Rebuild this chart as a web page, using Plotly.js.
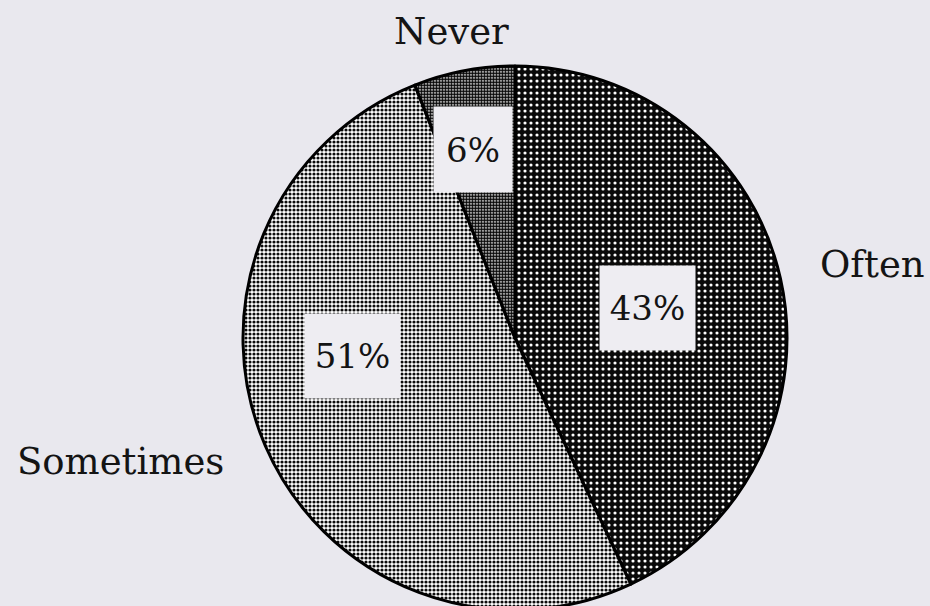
<!DOCTYPE html>
<html><head><meta charset="utf-8">
<script src="https://cdn.plot.ly/plotly-3.0.1.min.js"></script>
<style>html,body{margin:0;padding:0;background:#e9e8ee;overflow:hidden;}#chart{width:930px;height:610px;}</style>
</head><body><div id="chart"></div>
<script>
// ---- data ----
const categories = ['Often', 'Sometimes', 'Never'];
const percentValues = [43, 51, 6];
const percentLabels = ['43%', '51%', '6%'];

// ---- styles (label placement, as fractions of the pie radius) ----
const labelRadius = [1.34, 1.52, 1.15];
const labelAngleShift = [1, 6, -1];
const boxRadius = [0.5, 0.6, 0.71];
const boxAngleShift = [0, 17, -1.7];
const boxWidth = [85, 85, 68];
const boxHeight = [74, 74, 75];

const bgColors = ['#0a0a0a', '#ffffff', '#ffffff'];
const fgColors = ['#ffffff', '#0a0a0a', '#0a0a0a'];
const patSizes = [6, 4, 3];
const patSolidity = [0.22, 0.5, 0.75];

const W = 930, H = 610, R = 272, CX = 515;
const BG = '#e9e8ee';
const FONT = 'DejaVu Serif, Liberation Serif, serif';

const trace = {
  type: 'pie',
  labels: categories,
  values: percentValues,
  sort: false,
  direction: 'clockwise',
  rotation: 0,
  textinfo: 'none',
  hoverinfo: 'label+percent',
  marker: {
    colors: bgColors,
    line: {color: '#000000', width: 3},
    pattern: {
      shape: ['.', '.', '.'],
      bgcolor: bgColors,
      fgcolor: fgColors,
      size: patSizes,
      solidity: patSolidity,
      fillmode: 'replace'
    }
  },
  domain: {x: [(CX - R) / W, (CX + R) / W], y: [0, (2 * R) / H]}
};

const layout = {
  width: W, height: H,
  margin: {l: 0, r: 0, t: 0, b: 0},
  paper_bgcolor: BG,
  plot_bgcolor: BG,
  showlegend: false
};

Plotly.newPlot('chart', [trace], layout, {displayModeBar: false, staticPlot: true}).then(function (gd) {
  const cd = gd.calcdata[0];
  const cd0 = cd[0];
  const fl = gd._fullLayout;
  const sz = fl._size;
  const cx = (cd0.cx !== undefined) ? cd0.cx : sz.l + sz.w * (trace.domain.x[0] + trace.domain.x[1]) / 2;
  const cy = (cd0.cy !== undefined) ? cd0.cy : sz.t + sz.h * (1 - (trace.domain.y[0] + trace.domain.y[1]) / 2);
  const r = cd0.r || R;
  const total = percentValues.reduce((a, b) => a + b, 0);
  let cum = 0;
  const anns = [];
  for (let i = 0; i < cd.length; i++) {
    const v = percentValues[i];
    const mid = (cd[i].midangle !== undefined) ? cd[i].midangle : 2 * Math.PI * (cum + v / 2) / total;
    cum += v;
    function place(frac, shiftDeg) {
      const a = mid + shiftDeg * Math.PI / 180;
      const px = cx + frac * r * Math.sin(a);
      const py = cy - frac * r * Math.cos(a);
      return {x: (px - sz.l) / sz.w, y: 1 - (py - sz.t) / sz.h};
    }
    const lp = place(labelRadius[i], labelAngleShift[i]);
    anns.push({
      xref: 'paper', yref: 'paper', x: lp.x, y: lp.y,
      xanchor: 'center', yanchor: 'middle', showarrow: false,
      text: categories[i],
      font: {family: FONT, size: 37, color: '#141414'}
    });
    const bp = place(boxRadius[i], boxAngleShift[i]);
    anns.push({
      xref: 'paper', yref: 'paper', x: bp.x, y: bp.y,
      xanchor: 'center', yanchor: 'middle', showarrow: false,
      text: percentLabels[i],
      width: boxWidth[i], height: boxHeight[i],
      bgcolor: '#eeedf2', borderpad: 5, borderwidth: 1, bordercolor: 'rgba(0,0,0,0)',
      font: {family: FONT, size: 34, color: '#141414'}
    });
  }
  return Plotly.relayout(gd, {annotations: anns});
});
</script>
</body></html>
